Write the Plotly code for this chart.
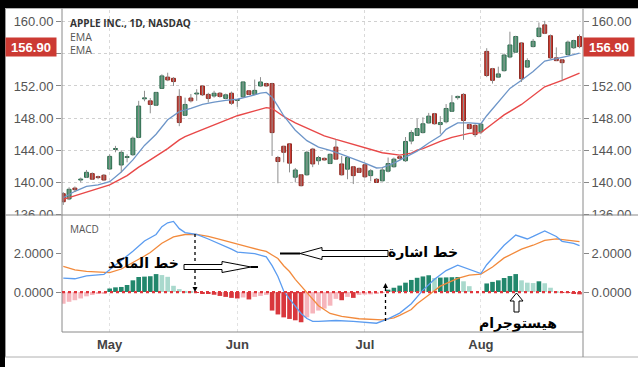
import plotly.graph_objects as go

# ---------------- data ----------------
days = list(range(90))
opens = [138.6, 137.95, 139.3, 140.3, 140.64, 141.1, 140.7, 140.9, 141.67, 144.1,
         142.17, 143.1, 143.45, 145.6, 150.4, 150.15, 149.6, 151.7, 153.1, 152.95,
         150.7, 148.35, 150.5, 151.0, 152.0, 150.95, 150.75, 151.1, 150.45, 151.1,
         150.2, 150.65, 151.4, 150.95, 152.0, 152.3, 152.3, 143.1, 144.5, 144.8,
         140.65, 140.95, 140.95, 144.15, 142.7, 143.0, 142.35, 144.4, 142.3, 141.65,
         141.95, 141.75, 142.2, 140.85, 140.4, 140.2, 141.4, 141.95, 143.2, 142.7,
         145.15, 145.85, 146.2, 147.4, 148.55, 147.2, 147.55, 148.85, 150.55, 150.95,
         147.2, 147.1, 146.3, 156.3, 154.15, 153.1, 153.9, 155.6, 156.2, 157.35,
         154.35, 156.9, 158.15, 159.6, 158.25, 155.5, 155.25, 155.9, 156.75, 158.15]
highs = [138.8, 139.4, 139.5, 140.6, 141.55, 141.25, 140.85, 141.05, 143.5, 144.55,
         144.0, 143.5, 145.7, 150.15, 151.4, 150.5, 151.25, 153.45, 153.65, 153.1,
         151.6, 150.55, 151.0, 151.6, 152.1, 151.15, 151.4, 151.25, 151.05, 151.3,
         150.35, 152.5, 151.45, 152.8, 153.1, 152.4, 152.4, 143.3, 144.55, 144.8,
         141.8, 141.05, 143.95, 144.3, 143.3, 143.1, 143.6, 145.35, 143.3, 143.2,
         142.05, 141.85, 142.3, 141.65, 140.55, 141.85, 143.1, 143.1, 143.3, 145.65,
         146.5, 147.95, 148.1, 148.65, 148.65, 148.25, 149.75, 150.85, 150.8, 151.1,
         147.3, 147.25, 147.4, 156.7, 154.25, 154.4, 156.05, 158.75, 158.25, 157.45,
         155.45, 157.85, 159.9, 160.1, 158.4, 156.8, 155.35, 157.65, 157.75, 158.4]
lows = [137.2, 137.8, 138.8, 140.0, 140.55, 140.3, 140.4, 140.2, 141.6, 143.75,
        141.25, 142.5, 143.3, 145.5, 150.1, 148.6, 149.5, 151.7, 152.6, 152.0,
        147.0, 148.3, 149.95, 150.15, 150.75, 149.95, 150.55, 150.55, 150.35, 149.65,
        149.4, 150.55, 150.9, 150.9, 151.9, 151.9, 143.3, 139.9, 142.5, 141.25,
        140.0, 139.5, 140.85, 141.9, 142.2, 142.7, 142.3, 142.8, 140.85, 140.4,
        139.8, 141.2, 140.55, 140.15, 139.95, 140.15, 141.25, 141.85, 142.85, 142.55,
        144.75, 145.8, 146.1, 147.35, 147.2, 146.05, 147.35, 148.8, 150.3, 145.3,
        146.6, 145.65, 146.0, 153.1, 152.3, 153.0, 153.8, 155.45, 156.1, 152.5,
        154.25, 156.8, 158.05, 158.45, 155.35, 155.1, 152.6, 155.8, 156.6, 156.7]
closes = [137.6, 139.15, 139.1, 140.4, 141.26, 140.4, 140.6, 140.3, 143.24, 144.2,
          143.74, 143.2, 145.5, 149.5, 150.5, 149.7, 151.2, 153.25, 152.75, 152.55,
          147.45, 149.7, 150.15, 151.1, 150.9, 150.45, 151.1, 150.7, 150.9, 149.85,
          150.3, 152.5, 150.95, 151.45, 152.5, 152.0, 146.2, 142.6, 143.75, 142.4,
          141.55, 139.6, 143.75, 142.3, 143.1, 142.8, 143.5, 142.9, 140.95, 143.1,
          140.85, 141.25, 140.7, 141.45, 140.0, 141.55, 142.35, 142.9, 143.0, 145.1,
          146.2, 146.7, 147.3, 148.25, 147.3, 147.45, 149.2, 149.9, 150.7, 147.7,
          146.7, 145.95, 147.25, 153.3, 152.7, 153.5, 155.85, 157.1, 158.15, 152.9,
          155.15, 157.55, 159.2, 158.55, 155.5, 155.15, 154.9, 157.45, 157.65, 156.9]

ema_fast_x = [0, 2, 4, 6, 8, 10, 12, 14, 16, 18, 20, 22, 24, 26, 28, 30, 32, 34, 35,
              36, 37, 38, 40, 42, 44, 46, 48, 50, 52, 54, 55, 57, 59, 61, 63, 65, 66,
              68, 70, 72, 73, 75, 77, 79, 81, 83, 85, 87, 89]
ema_fast = [138.1, 138.9, 139.5, 139.7, 140.1, 141.3, 142.8, 144.6, 146.0, 147.8, 148.8,
            149.2, 149.7, 150.0, 150.2, 150.35, 150.7, 151.1, 151.2, 150.6, 149.5, 148.3,
            146.5, 145.2, 144.4, 144.0, 143.5, 142.9, 142.4, 141.8, 141.85, 142.4, 143.2,
            143.9, 144.9, 145.8, 146.6, 147.4, 147.4, 147.3, 148.3, 150.0, 151.7, 152.7,
            153.8, 155.1, 155.4, 155.7, 156.1]
ema_slow_x = [0, 3, 5, 8, 11, 13, 15, 18, 20, 21, 23, 25, 28, 30, 33, 35, 36, 38, 40, 43,
              45, 47, 50, 53, 55, 58, 60, 61, 62, 65, 67, 70, 72, 74, 76, 79, 81, 83, 86, 89]
ema_slow = [137.9, 138.6, 139.0, 139.7, 140.85, 141.9, 142.8, 144.2, 145.3, 145.7, 146.3,
            146.9, 147.7, 148.3, 148.9, 149.3, 149.2, 148.2, 147.4, 146.5, 145.8, 145.35,
            144.75, 144.15, 143.7, 143.4, 143.65, 144.0, 144.2, 145.1, 145.6, 146.1, 146.2,
            147.3, 148.4, 149.7, 150.8, 151.9, 152.7, 153.6]

macd_x = [0, 2, 4, 6, 7, 8, 10, 12, 14, 15, 16, 17, 18, 19, 20, 21, 23, 25, 27, 29, 30,
          32, 33, 35, 36, 37, 38, 39, 40, 41, 42, 43, 44, 47, 50, 53, 54, 56, 58, 60, 62,
          64, 66, 68, 70, 72, 73, 75, 76, 78, 80, 81, 83, 85, 86, 88, 89]
macd = [0.71, 0.68, 0.83, 0.88, 0.9, 1.14, 1.6, 2.09, 2.62, 2.8, 2.95, 3.35, 3.55, 3.62,
        3.25, 3.05, 2.95, 2.72, 2.48, 2.2, 2.05, 2.02, 1.97, 1.8, 1.35, 0.8, 0.05, -0.35,
        -0.75, -1.1, -1.36, -1.5, -1.5, -1.46, -1.51, -1.56, -1.6, -1.38, -1.08, -0.6,
        0.1, 0.65, 1.1, 1.38, 1.15, 0.95, 1.4, 2.05, 2.4, 2.92, 2.72, 2.85, 3.13, 2.85,
        2.6, 2.5, 2.38]
signal_x = [0, 2, 4, 6, 8, 10, 12, 14, 15, 17, 19, 21, 23, 25, 27, 29, 32, 34, 35, 36, 37,
            38, 39, 40, 41, 42, 43, 44, 46, 48, 51, 54, 55, 57, 58, 60, 61, 63, 65, 68,
            70, 72, 74, 76, 79, 81, 83, 85, 87, 89]
signal = [1.31, 1.14, 1.06, 1.02, 1.0, 1.18, 1.5, 1.85, 2.03, 2.5, 2.83, 2.95, 2.96, 2.85,
          2.7, 2.53, 2.3, 2.15, 2.08, 1.9, 1.72, 1.35, 1.05, 0.65, 0.3, 0.0, -0.38, -0.7,
          -1.1, -1.25, -1.37, -1.43, -1.43, -1.32, -1.2, -0.9, -0.6, -0.15, 0.3, 0.7,
          0.87, 0.92, 1.28, 1.75, 2.2, 2.4, 2.65, 2.73, 2.65, 2.58]
hist = [-0.6, -0.5, -0.42, -0.33, -0.22, -0.15, -0.1, -0.06, 0.18, 0.24,
        0.26, 0.36, 0.6, 0.77, 0.79, 0.81, 0.92, 0.87, 0.78, 0.32,
        0.15, 0.06, 0.02, -0.03, -0.06, -0.1, -0.14, -0.2, -0.25, -0.3,
        -0.33, -0.28, -0.38, -0.25, -0.2, -0.15, -0.95, -1.15, -1.3, -1.38,
        -1.45, -1.55, -1.3, -1.1, -0.95, -0.85, -0.7, -0.35, -0.42, -0.25,
        -0.3, -0.15, -0.13, -0.12, -0.1, -0.05, 0.12, 0.22, 0.33, 0.48,
        0.62, 0.73, 0.8, 0.86, 0.72, 0.74, 0.75, 0.76, 0.77, 0.55,
        0.3, 0.0, 0.0, 0.44, 0.52, 0.6, 0.72, 0.82, 0.92, 0.6,
        0.48, 0.46, 0.55, 0.45, 0.22, 0.02, -0.03, -0.05, -0.06, -0.12]

month_pos = [8, 30, 52, 72]
month_labels = ["May", "Jun", "Jul", "Aug"]
price_ticks = [136, 140, 144, 148, 152, 156, 160]
macd_ticks = [0, 2]
last_price = closes[-1]

# ---------------- helpers for decorations (pixel -> paper) ----------------
L, R, T, B = 62, 583, 10, 332
def X(px):
    return (px - L) / (R - L)
def Y(py):
    return (B - py) / (B - T)

fig = go.Figure()

# EMA lines
fig.add_trace(go.Scatter(x=ema_slow_x, y=ema_slow, mode="lines",
                         line=dict(color="#e84848", width=1.4), hoverinfo="skip"))
fig.add_trace(go.Scatter(x=ema_fast_x, y=ema_fast, mode="lines",
                         line=dict(color="#6d95c8", width=1.3), hoverinfo="skip"))

# candle wicks
wx, wy = [], []
for d, h, l in zip(days, highs, lows):
    wx += [d, d, None]
    wy += [l, h, None]
fig.add_trace(go.Scatter(x=wx, y=wy, mode="lines",
                         line=dict(color="#8e8e8e", width=1), hoverinfo="skip"))

# candle bodies
up = [c >= o for o, c in zip(opens, closes)]
fig.add_trace(go.Bar(
    x=days,
    y=[max(abs(c - o), 0.12) for o, c in zip(opens, closes)],
    base=[min(o, c) for o, c in zip(opens, closes)],
    width=0.68,
    marker=dict(color=["#4f9d77" if u else "#cc3d35" for u in up],
                line=dict(color=["#2f6b4f" if u else "#8e2a22" for u in up], width=1)),
    hoverinfo="skip"))

# MACD histogram
hcol = []
for k, v in enumerate(hist):
    prev = hist[k - 1] if k > 0 else v
    if v >= 0:
        hcol.append("#22876c" if (v >= prev and k > 0) else "#a9d9cd")
    else:
        hcol.append("#d9373d" if (v <= prev and k > 0) else "#f6b5bc")
fig.add_trace(go.Bar(x=days, y=hist, width=0.8, marker=dict(color=hcol, line=dict(width=0)),
                     xaxis="x2", yaxis="y2", hoverinfo="skip"))
fig.add_trace(go.Scatter(x=signal_x, y=signal, mode="lines", line=dict(color="#f28a3c", width=1.3),
                         xaxis="x2", yaxis="y2", hoverinfo="skip"))
fig.add_trace(go.Scatter(x=macd_x, y=macd, mode="lines", line=dict(color="#5b9cf0", width=1.3),
                         xaxis="x2", yaxis="y2", hoverinfo="skip"))

# invisible helpers so the right-hand axes render
fig.add_trace(go.Scatter(x=[days[0]], y=[closes[0]], mode="markers", marker=dict(opacity=0),
                         xaxis="x", yaxis="y3", hoverinfo="skip"))
fig.add_trace(go.Scatter(x=[days[0]], y=[hist[0]], mode="markers", marker=dict(opacity=0),
                         xaxis="x2", yaxis="y4", hoverinfo="skip"))

tick_font = dict(family="Liberation Sans", size=13, color="#555")
xr = [-0.22, 89.6]
prange = [135.95, 161.45]
mrange = [-2.05, 3.95]
split = Y(215)
# the level next to the last price is hidden behind the last-price tag
price_text = ["" if abs(t - last_price) < 2 else f"{t:.2f}" for t in price_ticks]

common_y = dict(ticks="outside", ticklen=5, tickcolor="#888", zeroline=False,
                tickfont=tick_font, showline=False, automargin=False)
fig.update_layout(
    width=638, height=367,
    margin=dict(l=L, r=638 - R, t=T, b=367 - B, autoexpand=False),
    paper_bgcolor="white", plot_bgcolor="white",
    showlegend=False, barmode="overlay", hovermode=False,
    xaxis=dict(domain=[0, 1], anchor="y", range=xr, tickvals=month_pos, showticklabels=False,
               showgrid=True, gridcolor="#d9d9d9", griddash="dot", zeroline=False, ticks="",
               showline=False, automargin=False),
    xaxis2=dict(domain=[0, 1], anchor="y2", range=xr, tickvals=month_pos, ticktext=month_labels,
                showgrid=True, gridcolor="#e2e2e2", griddash="dot", zeroline=False, ticks="",
                showline=False, ticklabelstandoff=3, automargin=False,
                tickfont=dict(family="Liberation Sans", size=13, color="#444", weight="bold")),
    yaxis=dict(domain=[split, 1], range=prange, tickvals=price_ticks, ticktext=price_text,
               showgrid=True, gridcolor="#d0d0d0", griddash="dot", **common_y),
    yaxis3=dict(overlaying="y", side="right", anchor="x", range=prange, tickvals=price_ticks,
                ticktext=price_text, showgrid=False, **common_y),
    yaxis2=dict(domain=[0, split], range=mrange, tickvals=macd_ticks, tickformat=".4f",
                showgrid=False, **common_y),
    yaxis4=dict(overlaying="y2", side="right", anchor="x2", range=mrange, tickvals=macd_ticks,
                tickformat=".4f", showgrid=False, **common_y),
)

shapes = []
def pline(x0, y0, x1, y1, color="#8a8a8a", width=1, dash="solid"):
    shapes.append(dict(type="line", xref="paper", yref="paper", x0=X(x0), y0=Y(y0),
                       x1=X(x1), y1=Y(y1), line=dict(color=color, width=width, dash=dash)))
def prect(x0, y0, x1, y1, color):
    shapes.append(dict(type="rect", xref="paper", yref="paper", x0=X(x0), x1=X(x1),
                       y0=Y(y0), y1=Y(y1), fillcolor=color, line=dict(width=0)))

# the lowest price label is clipped by the pane border in the source
prect(6, 215.5, 61, 222, "white")
prect(584, 215.5, 640, 222, "white")

# outer black band (screenshot frame)
prect(-2, -2, 640, 8, "black")
prect(-2, -2, 5, 369, "black")
pline(5.5, 8, 5.5, 357, "#9a9a9a")
pline(5, 357, 640, 357, "#b0b0b0")
pline(5, 8.5, 640, 8.5, "#b0b0b0")
pline(5, 215, 640, 215, "#8a8a8a")
pline(L, 8.5, L, B, "#8a8a8a")
pline(R, 8.5, R, 357, "#8a8a8a")
pline(L, B, R, B, "#8a8a8a")

# zero line of MACD pane
shapes.append(dict(type="line", xref="x2 domain", yref="y2", x0=0, x1=1, y0=0, y1=0,
                   line=dict(color="#e0353b", width=2.2, dash="dot")))

# dotted crossover arrows
pline(195, 234, 195, 287, "black", 1.3, "dot")
shapes.append(dict(type="path", xref="paper", yref="paper", fillcolor="black", line=dict(width=0),
                   path=f"M{X(192.5)},{Y(287)} L{X(197.5)},{Y(287)} L{X(195)},{Y(292)} Z"))
pline(385.5, 321, 385.5, 288, "black", 1.3, "dot")
shapes.append(dict(type="path", xref="paper", yref="paper", fillcolor="black", line=dict(width=0),
                   path=f"M{X(383)},{Y(288)} L{X(388)},{Y(288)} L{X(385.5)},{Y(283)} Z"))

# block arrows
def poly(pts):
    return "M" + " L".join(f"{X(a)},{Y(b)}" for a, b in pts) + " Z"
shapes.append(dict(type="path", xref="paper", yref="paper", fillcolor="white",
                   line=dict(color="black", width=1),
                   path=poly([(184, 264.5), (222, 264.5), (222, 261.5), (251, 267), (222, 272.5),
                              (222, 269.5), (184, 269.5)])))
pline(251, 267, 258, 267, "black", 2)
shapes.append(dict(type="path", xref="paper", yref="paper", fillcolor="white",
                   line=dict(color="black", width=1),
                   path=poly([(300, 253.5), (322, 247.5), (322, 250.5), (388, 250.5), (388, 256.5),
                              (322, 256.5), (322, 259.5)])))
pline(280, 253.5, 300, 253.5, "black", 2)
shapes.append(dict(type="path", xref="paper", yref="paper", fillcolor="white",
                   line=dict(color="black", width=1),
                   path=poly([(516.5, 293), (523, 301), (519, 301), (519, 312), (514, 312),
                              (514, 301), (510, 301)])))
fig.update_layout(shapes=shapes)

ann = []
def text(px, py, s, size, color, weight="normal", family="Open Sans", xanchor="left"):
    ann.append(dict(xref="paper", yref="paper", x=X(px), y=Y(py), text=s, showarrow=False,
                    xanchor=xanchor, yanchor="middle",
                    font=dict(family=family, size=size, color=color, weight=weight)))

text(68, 23, "APPLE INC., 1D, NASDAQ", 10, "#333", "bold")
text(68, 37, "EMA", 10.5, "#555")
text(68, 50, "EMA", 10.5, "#555")
text(68, 229, "MACD", 10, "#555")
text(143, 263, "خط الماكد", 14, "black", "bold", "DejaVu Sans", "center")
text(423, 252, "خط اشارة", 14, "black", "bold", "DejaVu Sans", "center")
text(518, 323, "هيستوجرام", 14, "black", "bold", "DejaVu Sans", "center")

for px in (31, 609):
    ann.append(dict(xref="paper", yref="y", x=X(px), y=last_price, text=f"{last_price:.2f}",
                    showarrow=False, xanchor="center", yanchor="middle", bgcolor="#cc3a33",
                    width=50, height=18, borderpad=0,
                    font=dict(family="Liberation Sans", size=13, color="white", weight="bold")))
fig.update_layout(annotations=ann)

fig.write_html("out.html", config={"displayModeBar": False},
               post_script="document.body.style.margin='0px';document.body.style.overflow='hidden';")
